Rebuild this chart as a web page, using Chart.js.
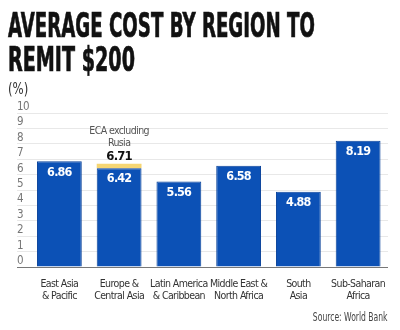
<!DOCTYPE html>
<html>
<head>
<meta charset="utf-8">
<script src="https://cdn.jsdelivr.net/npm/chart.js@4.4.0/dist/chart.umd.min.js"></script>
<style>
  html, body { margin: 0; padding: 0; background: #fff; }
  #wrap { position: relative; width: 400px; height: 330px; overflow: hidden; }
  #salesChart { position: absolute; left: 0; top: 0; }
  .title { position: absolute; left: 8px; font-family: "DejaVu Sans Condensed", "DejaVu Sans", sans-serif; font-weight: bold; font-size: 33px; line-height: 1; color: #111; white-space: nowrap; transform-origin: 0 0; -webkit-text-stroke: 0.7px #111; }
  .unit { position: absolute; left: 8px; top: 80px; font-family: "DejaVu Sans Condensed", sans-serif; font-size: 15px; color: #333; white-space: nowrap; transform-origin: 0 0; }
  .source { position: absolute; right: 12px; top: 310px; font-family: "DejaVu Sans Condensed", sans-serif; font-size: 12px; color: #444; white-space: nowrap; transform-origin: 100% 0; }
</style>
</head>
<body>
<div id="wrap">
  <canvas id="salesChart" width="400" height="330"></canvas>
  <span class="title" id="t1" style="top:9px">AVERAGE COST BY REGION TO</span>
  <span class="title" id="t2" style="top:43px">REMIT $200</span>
  <span class="unit" id="unit">(%)</span>
  <span class="source" id="src">Source: World Bank</span>
</div>
<script>
// data
var regions = [
  ['East Asia', '& Pacific'],
  ['Europe &', 'Central Asia'],
  ['Latin America', '& Caribbean'],
  ['Middle East &', 'North Africa'],
  ['South', 'Asia'],
  ['Sub-Saharan', 'Africa']
];
var avgCost = [6.86, 6.42, 5.56, 6.58, 4.88, 8.19];
var ecaExRussia = [null, 6.71, null, null, null, null];
var yTicks = [0, 1, 2, 3, 4, 5, 6, 7, 8, 9, 10];

// squeeze text to the width of the condensed fonts in the original
function fitWidth(id, w) {
  var el = document.getElementById(id);
  el.style.transform = 'scaleX(' + (w / el.offsetWidth) + ')';
}
fitWidth('t1', 307);
fitWidth('t2', 127);
fitWidth('unit', 20);
fitWidth('src', 75);

var narrow = '"DejaVu Sans Condensed", "DejaVu Sans", sans-serif';

var extraPart = ecaExRussia.map(function (v, i) {
  return v == null ? null : +(v - avgCost[i]).toFixed(2);
});

// tighter letters, the original uses a narrow face
var tightText = {
  id: 'tightText',
  beforeUpdate: function (chart) { chart.ctx.letterSpacing = '-0.6px'; },
  beforeDraw: function (chart) { chart.ctx.letterSpacing = '-0.6px'; }
};

var valueLabels = {
  id: 'valueLabels',
  afterDatasetsDraw: function (chart) {
    var ctx = chart.ctx;
    ctx.save();
    ctx.letterSpacing = '-0.8px';
    ctx.textAlign = 'center';
    ctx.textBaseline = 'middle';
    ctx.font = 'bold 12.5px ' + narrow;
    ctx.fillStyle = '#fff';
    chart.getDatasetMeta(0).data.forEach(function (bar, i) {
      ctx.fillText(avgCost[i].toFixed(2), bar.x, bar.y + 11);
    });
    chart.getDatasetMeta(1).data.forEach(function (bar, i) {
      if (ecaExRussia[i] == null) return;
      ctx.fillStyle = '#111';
      ctx.font = 'bold 13px ' + narrow;
      ctx.fillText(ecaExRussia[i].toFixed(2), bar.x, bar.y - 7);
      ctx.fillStyle = '#555';
      ctx.letterSpacing = '-0.6px';
      ctx.font = '10.5px ' + narrow;
      ctx.fillText('Rusia', bar.x, bar.y - 20);
      ctx.fillText('ECA excluding', bar.x, bar.y - 32);
    });
    ctx.restore();
  }
};

var ctx = document.getElementById('salesChart').getContext('2d');
var myChart = new Chart(ctx, {
  type: 'bar',
  data: {
    labels: regions,
    datasets: [{
      label: 'Average cost',
      data: avgCost,
      backgroundColor: '#0c51b6',
      borderColor: '#0a439a',
      borderWidth: 1,
      barPercentage: 0.75,
      categoryPercentage: 1
    }, {
      label: 'ECA excluding Rusia',
      data: extraPart,
      backgroundColor: '#f6d673',
      borderWidth: 0,
      barPercentage: 0.75,
      categoryPercentage: 1
    }]
  },
  options: {
    responsive: false,
    animation: false,
    layout: { padding: { left: 17, right: 12, top: 113, bottom: 23 } },
    plugins: {
      legend: { display: false },
      tooltip: { enabled: false }
    },
    scales: {
      x: {
        stacked: true,
        grid: { display: false },
        border: { display: false },
        ticks: {
          color: '#333',
          padding: 3,
          maxRotation: 0,
          autoSkip: false,
          font: { family: narrow, size: 10.5, lineHeight: 1.15 }
        },
        afterFit: function (scale) { scale.height = 40; }
      },
      y: {
        stacked: true,
        min: 0,
        max: 10,
        border: { display: false },
        grid: {
          color: function (c) { return c.tick && c.tick.value === 0 ? '#777' : '#e8e8e8'; },
          tickLength: 12.5
        },
        afterBuildTicks: function (scale) {
          scale.ticks = yTicks.map(function (v) { return { value: v }; });
        },
        ticks: {
          autoSkip: false,
          crossAlign: 'far',
          labelOffset: -6,
          padding: 0,
          color: '#777',
          font: { family: narrow, size: 11.5 }
        },
        afterFit: function (scale) { scale.width = 12.5; }
      }
    }
  },
  plugins: [tightText, valueLabels]
});
</script>
</body>
</html>
